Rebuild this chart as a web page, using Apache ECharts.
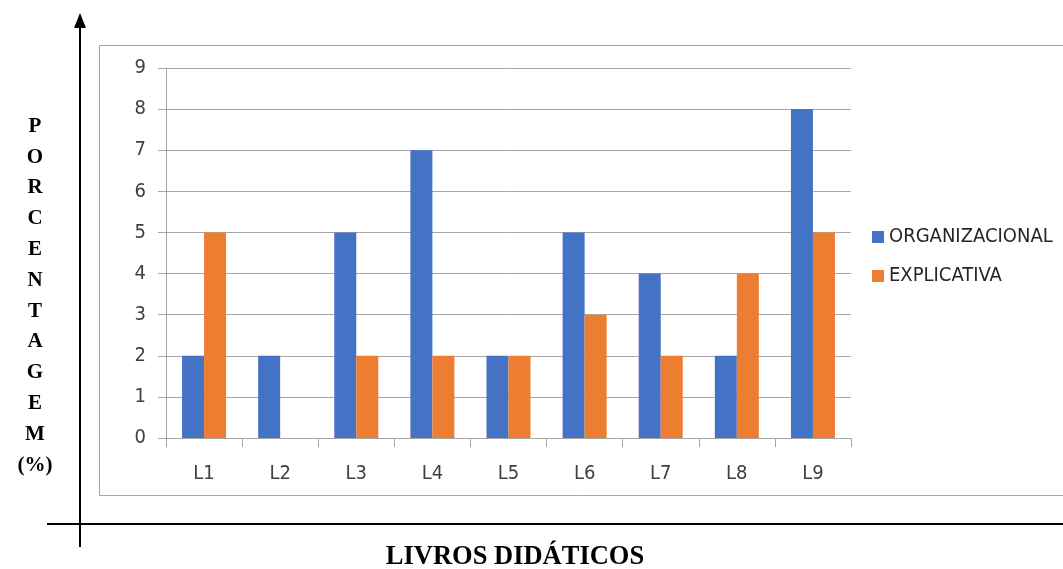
<!DOCTYPE html>
<html>
<head>
<meta charset="utf-8">
<script src="https://cdn.jsdelivr.net/npm/echarts@6/dist/echarts.min.js"></script>
<style>
  html, body { margin: 0; padding: 0; background: #fff; }
  #chart { width: 1063px; height: 569px; }
</style>
</head>
<body>
<div id="chart"></div>
<script>
// dados do gráfico
var livros = ['L1', 'L2', 'L3', 'L4', 'L5', 'L6', 'L7', 'L8', 'L9'];
var organizacional = [2, 2, 5, 7, 2, 5, 4, 2, 8];
var explicativa = [5, 0, 2, 2, 2, 3, 2, 4, 5];
var yTicks = [0, 1, 2, 3, 4, 5, 6, 7, 8, 9];

var labelFont = '"Liberation Sans Narrow", "DejaVu Sans Condensed", sans-serif';
var titleFont = '"Liberation Serif", "DejaVu Serif", serif';

var chart = echarts.init(document.getElementById('chart'), null, { renderer: 'canvas' });

chart.setOption({
    animation: false,
    backgroundColor: '#fff',
    grid: { left: 166, right: 212, top: 68, bottom: 131 },
    legend: {
        orient: 'vertical',
        left: 867,
        top: 222,
        itemWidth: 12,
        itemHeight: 12,
        itemGap: 19,
        icon: 'rect',
        textStyle: { fontFamily: labelFont, fontSize: 20, color: '#262626' },
        data: ['ORGANIZACIONAL', 'EXPLICATIVA']
    },
    xAxis: {
        type: 'category',
        data: livros,
        axisLine: { lineStyle: { color: '#a6a6a6' } },
        axisTick: { show: true, length: 9, alignWithLabel: false, lineStyle: { color: '#a6a6a6' } },
        axisLabel: { fontFamily: labelFont, fontSize: 20, color: '#404040', margin: 26 }
    },
    yAxis: {
        type: 'value',
        min: yTicks[0],
        max: yTicks[yTicks.length - 1],
        interval: 1,
        axisLine: { show: true, lineStyle: { color: '#a6a6a6' } },
        axisTick: { show: true, length: 8, lineStyle: { color: '#a6a6a6' } },
        axisLabel: { fontFamily: labelFont, fontSize: 20, color: '#404040', margin: 20 },
        splitLine: { lineStyle: { color: '#a6a6a6' } }
    },
    series: [
        {
            name: 'ORGANIZACIONAL',
            type: 'bar',
            data: organizacional,
            barWidth: 22,
            barGap: '0%',
            itemStyle: { color: '#4472c4' }
        },
        {
            name: 'EXPLICATIVA',
            type: 'bar',
            data: explicativa,
            barWidth: 22,
            barGap: '0%',
            itemStyle: { color: '#ed7d31' }
        }
    ],
    graphic: [
        // moldura do gráfico
        {
            type: 'rect',
            z: -1,
            shape: { x: 99.5, y: 45.5, width: 970, height: 450 },
            style: { fill: 'none', stroke: '#a6a6a6', lineWidth: 1 }
        },
        // eixo vertical com seta
        {
            type: 'line',
            shape: { x1: 80, y1: 26, x2: 80, y2: 547 },
            style: { stroke: '#000', lineWidth: 2 }
        },
        {
            type: 'polygon',
            shape: { points: [[80, 13], [74, 28], [86, 28]] },
            style: { fill: '#000' }
        },
        // eixo horizontal
        {
            type: 'line',
            shape: { x1: 47, y1: 524, x2: 1063, y2: 524 },
            style: { stroke: '#000', lineWidth: 2 }
        },
        // título vertical
        {
            type: 'text',
            x: 35,
            y: 111,
            style: {
                text: 'P\nO\nR\nC\nE\nN\nT\nA\nG\nE\nM\n(%)',
                fontFamily: titleFont,
                fontWeight: 'bold',
                fontSize: 21,
                lineHeight: 30.8,
                align: 'center',
                fill: '#000'
            }
        },
        {
            type: 'text',
            x: 515,
            y: 557,
            style: {
                text: 'LIVROS DIDÁTICOS',
                fontFamily: titleFont,
                fontWeight: 'bold',
                fontSize: 26.5,
                align: 'center',
                verticalAlign: 'middle',
                fill: '#000'
            }
        }
    ]
});
</script>
</body>
</html>
